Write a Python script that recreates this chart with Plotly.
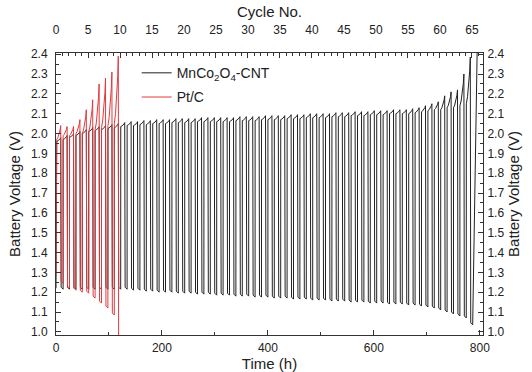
import plotly.graph_objects as go

# ---------------- data ----------------
# MnCo2O4-CNT: end-of-charge voltage of each cycle (65 cycles)
BLACK_PEAK = [
    1.98, 1.99, 2.00, 2.01, 2.02, 2.03, 2.035, 2.04, 2.045, 2.05,
    2.055, 2.06, 2.06, 2.065, 2.065, 2.07, 2.07, 2.07, 2.075, 2.075,
    2.075, 2.075, 2.08, 2.08, 2.08, 2.08, 2.08, 2.08, 2.085, 2.085,
    2.085, 2.085, 2.09, 2.09, 2.09, 2.09, 2.095, 2.095, 2.095, 2.10,
    2.10, 2.10, 2.10, 2.105, 2.105, 2.105, 2.11, 2.11, 2.11, 2.115,
    2.115, 2.115, 2.12, 2.12, 2.12, 2.125, 2.13, 2.14, 2.15, 2.16,
    2.19, 2.21, 2.22, 2.30, 2.385,
]
# MnCo2O4-CNT: start-of-charge voltage of each cycle
BLACK_CHARGE_START = [
    1.96, 1.97, 1.98, 1.99, 2.00, 2.01, 2.015, 2.02, 2.025, 2.03,
    2.035, 2.04, 2.04, 2.045, 2.045, 2.05, 2.05, 2.05, 2.055, 2.055,
    2.055, 2.055, 2.06, 2.06, 2.06, 2.06, 2.06, 2.06, 2.065, 2.065,
    2.065, 2.065, 2.07, 2.07, 2.07, 2.07, 2.075, 2.075, 2.075, 2.08,
    2.08, 2.08, 2.08, 2.085, 2.085, 2.085, 2.09, 2.09, 2.09, 2.095,
    2.095, 2.095, 2.10, 2.10, 2.10, 2.10, 2.105, 2.11, 2.115, 2.12,
    2.12, 2.13, 2.13, 2.14, 2.15,
]
# MnCo2O4-CNT: end-of-discharge voltage of each cycle
BLACK_BOTTOM = [
    1.215, 1.215, 1.215, 1.215, 1.215, 1.215, 1.215, 1.215, 1.215, 1.215,
    1.215, 1.21, 1.21, 1.205, 1.205, 1.20, 1.20, 1.20, 1.195, 1.195,
    1.195, 1.19, 1.19, 1.19, 1.185, 1.185, 1.185, 1.18, 1.18, 1.18,
    1.175, 1.175, 1.175, 1.17, 1.17, 1.17, 1.165, 1.165, 1.165, 1.16,
    1.16, 1.16, 1.155, 1.155, 1.155, 1.15, 1.15, 1.15, 1.145, 1.145,
    1.145, 1.14, 1.14, 1.14, 1.135, 1.135, 1.13, 1.125, 1.12, 1.11,
    1.10, 1.09, 1.08, 1.07, 1.035,
]
BLACK_START_V = 1.22
BLACK_TAIL_T = [795.0]
BLACK_TAIL_V = [2.42]

# Pt/C
RED_PEAK = [2.04, 2.035, 2.035, 2.07, 2.12, 2.17, 2.25, 2.28, 2.31, 2.39]
RED_CHARGE_START = [1.97, 1.99, 1.99, 2.00, 2.00, 2.01, 2.02, 2.03, 2.04, 2.05]
RED_BOTTOM = [1.245, 1.22, 1.21, 1.20, 1.195, 1.17, 1.145, 1.12, 1.085]
RED_START_V = 1.28
RED_END_V = 0.90

# cycling protocol (hours)
CYCLE_H = 12.08
FIRST_PEAK_H = 8.9
CHARGE_H = 7.5
DISCHARGE_H = 4.5

TIME_TICKS = [0, 200, 400, 600, 800]
CYCLE_TICKS = list(range(0, 70, 5))
VOLT_TICKS = [1.0, 1.1, 1.2, 1.3, 1.4, 1.5, 1.6, 1.7, 1.8, 1.9, 2.0, 2.1, 2.2, 2.3, 2.4]

# curve shape within a charge step (fractions of time / of voltage rise)
SHAPE_T = [0.0, 0.3, 0.6, 0.85, 1.0]
SHAPE_V = [0.0, 0.15, 0.4, 0.7, 1.0]


def build(peaks, cstarts, bottoms, start_v):
    t = [0.0]
    v = [start_v]
    for i, pk in enumerate(peaks):
        tp = FIRST_PEAK_H + CYCLE_H * i
        tc = tp - CHARGE_H
        cs = cstarts[i]
        d = pk - cs
        for ft, fv in zip(SHAPE_T, SHAPE_V):
            t.append(tc + ft * CHARGE_H)
            v.append(cs + fv * d)
        if i < len(bottoms):
            b = bottoms[i]
            t += [tp + 0.05, tp + 0.8, tp + DISCHARGE_H]
            v += [b + 0.04, b + 0.01, b]
    return t, v


bt, bv = build(BLACK_PEAK, BLACK_CHARGE_START, BLACK_BOTTOM, BLACK_START_V)
bt += BLACK_TAIL_T
bv += BLACK_TAIL_V

rt, rv = build(RED_PEAK, RED_CHARGE_START, RED_BOTTOM, RED_START_V)
rt.append(rt[-1] + 0.6)
rv.append(RED_END_V)

BLACK = "#222222"
RED = "#e0393e"
AX = "#333333"
FONT = "Liberation Sans, Arial, sans-serif"
TITLE_SIZE = 15

fig = go.Figure()
fig.add_trace(go.Scatter(x=bt, y=bv, mode="lines", line=dict(color=BLACK, width=1),
                         name="MnCo<sub>2</sub>O<sub>4</sub>-CNT", legendgroup="a"))
fig.add_trace(go.Scatter(x=rt, y=rv, mode="lines", line=dict(color=RED, width=1),
                         name="Pt/C", legendgroup="b"))
fig.add_trace(go.Scatter(x=[], y=[], xaxis="x2", yaxis="y2", showlegend=False, hoverinfo="skip"))

XMAX = 806
YR = [0.984, 2.406]


def axis_style(standoff):
    return dict(showgrid=False, zeroline=False, showline=True, linecolor=AX, linewidth=1,
                ticks="inside", ticklen=5, tickcolor=AX, automargin=False,
                ticklabelstandoff=standoff, tickfont=dict(size=12, color="#222"))


fig.update_layout(
    width=532, height=372,
    margin=dict(l=56, r=49, t=53, b=37, autoexpand=False),
    plot_bgcolor="white", paper_bgcolor="white",
    font=dict(family=FONT, size=12, color="#222"),
    legend=dict(x=0.189, y=0.985, xanchor="left", yanchor="top", bgcolor="rgba(0,0,0,0)",
                font=dict(size=14, family=FONT), tracegroupgap=3),
    xaxis=dict(range=[0, XMAX], tickvals=TIME_TICKS,
               minor=dict(dtick=100, ticks="inside", ticklen=3, tickcolor=AX),
               title=dict(text="Time (h)", font=dict(size=TITLE_SIZE), standoff=0), **axis_style(2)),
    xaxis2=dict(range=[0, XMAX / CYCLE_H], tickvals=CYCLE_TICKS, overlaying="x", side="top",
                minor=dict(dtick=1, ticks="inside", ticklen=3, tickcolor=AX),
                title=dict(text="Cycle No.", font=dict(size=TITLE_SIZE), standoff=1), **axis_style(13)),
    yaxis=dict(range=YR, tickvals=VOLT_TICKS, tickformat=".1f",
               minor=dict(dtick=0.05, ticks="inside", ticklen=3, tickcolor=AX),
               title=dict(text="Battery Voltage (V)", font=dict(size=TITLE_SIZE), standoff=6), **axis_style(5)),
    yaxis2=dict(range=YR, tickvals=VOLT_TICKS, tickformat=".1f", overlaying="y", side="right",
                minor=dict(dtick=0.05, ticks="inside", ticklen=3, tickcolor=AX),
                title=dict(text="Battery Voltage (V)", font=dict(size=TITLE_SIZE), standoff=5), **axis_style(1)),
)

# remove the browser's default 8px page margin so the figure fills the window exactly
fig.write_html("out.html", config={"displayModeBar": False},
               post_script="document.body.style.margin='0px';")
